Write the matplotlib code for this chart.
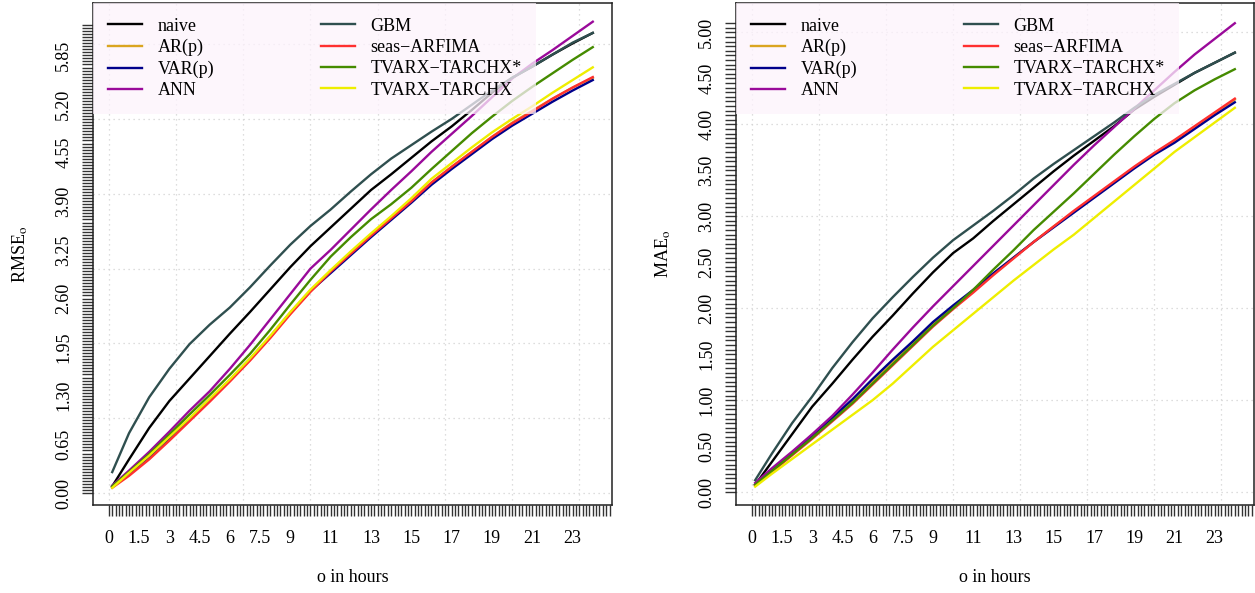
import matplotlib
matplotlib.use("Agg")
import matplotlib.pyplot as plt
import numpy as np

plt.rcParams["font.family"] = ["Liberation Serif", "DejaVu Serif"]
plt.rcParams["mathtext.fontset"] = "stix"

# forecast horizon in hours (first point = 10 min)
hours = [1 / 6, 1, 2, 3, 4, 5, 6, 7, 8, 9, 10, 11, 12, 13, 14, 15, 16, 17, 18, 19, 20, 21, 22, 23, 24]

models = ["naive", "AR(p)", "VAR(p)", "ANN", "GBM", "seas\u2212ARFIMA", "TVARX\u2212TARCHX*", "TVARX\u2212TARCHX"]
colors = ["#000000", "#DAA520", "#00008B", "#9A0A9A", "#2F4F4F", "#FF3030", "#458B00", "#EEEE00"]

# RMSE per horizon
rmse_naive = [0.09, 0.45, 0.87, 1.23, 1.53, 1.83, 2.13, 2.42, 2.72, 3.02, 3.30, 3.55, 3.80, 4.05, 4.26, 4.48, 4.70, 4.90, 5.12, 5.35, 5.55, 5.70, 5.86, 6.01, 6.15]
rmse_ar = [0.08, 0.25, 0.47, 0.72, 0.98, 1.24, 1.50, 1.78, 2.08, 2.40, 2.70, 2.96, 3.20, 3.44, 3.67, 3.90, 4.15, 4.36, 4.56, 4.76, 4.95, 5.11, 5.27, 5.42, 5.55]
rmse_var = [0.08, 0.26, 0.49, 0.74, 0.99, 1.25, 1.51, 1.79, 2.09, 2.41, 2.70, 2.94, 3.18, 3.42, 3.65, 3.88, 4.12, 4.33, 4.53, 4.73, 4.91, 5.07, 5.23, 5.38, 5.52]
rmse_ann = [0.10, 0.30, 0.55, 0.82, 1.10, 1.36, 1.66, 1.98, 2.32, 2.66, 3.00, 3.25, 3.52, 3.79, 4.05, 4.30, 4.56, 4.80, 5.04, 5.29, 5.54, 5.74, 5.92, 6.11, 6.30]
rmse_gbm = [0.28, 0.80, 1.28, 1.66, 1.99, 2.25, 2.48, 2.75, 3.04, 3.32, 3.57, 3.79, 4.03, 4.26, 4.47, 4.65, 4.83, 5.00, 5.19, 5.38, 5.55, 5.70, 5.86, 6.02, 6.15]
rmse_arfima = [0.07, 0.23, 0.45, 0.70, 0.96, 1.22, 1.49, 1.77, 2.07, 2.39, 2.69, 2.96, 3.20, 3.44, 3.67, 3.90, 4.15, 4.36, 4.56, 4.76, 4.94, 5.10, 5.27, 5.42, 5.56]
rmse_tvarx_s = [0.09, 0.28, 0.52, 0.78, 1.05, 1.31, 1.58, 1.86, 2.18, 2.52, 2.85, 3.16, 3.42, 3.66, 3.86, 4.08, 4.33, 4.57, 4.81, 5.03, 5.24, 5.43, 5.61, 5.79, 5.96]
rmse_tvarx = [0.07, 0.27, 0.50, 0.75, 1.00, 1.26, 1.52, 1.80, 2.10, 2.42, 2.72, 2.98, 3.23, 3.47, 3.70, 3.94, 4.20, 4.41, 4.62, 4.82, 5.00, 5.17, 5.35, 5.52, 5.69]

# MAE per horizon
mae_naive = [0.08, 0.33, 0.63, 0.93, 1.18, 1.44, 1.69, 1.92, 2.16, 2.39, 2.60, 2.76, 2.95, 3.13, 3.31, 3.49, 3.66, 3.82, 3.98, 4.16, 4.30, 4.43, 4.56, 4.67, 4.78]
mae_ar = [0.08, 0.23, 0.41, 0.60, 0.79, 0.99, 1.20, 1.41, 1.62, 1.83, 2.01, 2.19, 2.37, 2.55, 2.72, 2.89, 3.05, 3.21, 3.37, 3.53, 3.68, 3.82, 3.97, 4.12, 4.27]
mae_var = [0.08, 0.24, 0.43, 0.62, 0.81, 1.01, 1.23, 1.44, 1.64, 1.85, 2.03, 2.20, 2.38, 2.55, 2.72, 2.88, 3.04, 3.20, 3.36, 3.52, 3.67, 3.80, 3.95, 4.10, 4.24]
mae_ann = [0.10, 0.26, 0.44, 0.63, 0.83, 1.06, 1.30, 1.55, 1.79, 2.02, 2.24, 2.46, 2.68, 2.90, 3.12, 3.34, 3.56, 3.77, 3.97, 4.17, 4.37, 4.57, 4.76, 4.93, 5.10]
mae_gbm = [0.13, 0.42, 0.75, 1.04, 1.35, 1.63, 1.89, 2.12, 2.34, 2.55, 2.74, 2.90, 3.06, 3.23, 3.41, 3.57, 3.72, 3.87, 4.02, 4.18, 4.32, 4.44, 4.56, 4.67, 4.78]
mae_arfima = [0.07, 0.22, 0.40, 0.58, 0.77, 0.96, 1.17, 1.38, 1.59, 1.80, 1.99, 2.17, 2.36, 2.54, 2.72, 2.89, 3.06, 3.22, 3.38, 3.54, 3.69, 3.83, 3.98, 4.13, 4.28]
mae_tvarx_s = [0.08, 0.23, 0.41, 0.59, 0.78, 0.97, 1.18, 1.39, 1.60, 1.81, 2.00, 2.20, 2.42, 2.63, 2.85, 3.05, 3.25, 3.46, 3.67, 3.87, 4.06, 4.23, 4.37, 4.49, 4.60]
mae_tvarx = [0.06, 0.20, 0.36, 0.52, 0.68, 0.84, 1.00, 1.18, 1.38, 1.58, 1.76, 1.94, 2.12, 2.30, 2.47, 2.64, 2.80, 2.98, 3.16, 3.34, 3.52, 3.70, 3.86, 4.02, 4.18]

rmse = [rmse_naive, rmse_ar, rmse_var, rmse_ann, rmse_gbm, rmse_arfima, rmse_tvarx_s, rmse_tvarx]
mae = [mae_naive, mae_ar, mae_var, mae_ann, mae_gbm, mae_arfima, mae_tvarx_s, mae_tvarx]

xlabels = [0, 1.5, 3, 4.5, 6, 7.5, 9, 11, 13, 15, 17, 19, 21, 23]
rmse_ticks = [0.00, 0.65, 1.30, 1.95, 2.60, 3.25, 3.90, 4.55, 5.20, 5.85]
mae_ticks = [0.00, 0.50, 1.00, 1.50, 2.00, 2.50, 3.00, 3.50, 4.00, 4.50, 5.00]

W, H = 1255, 593
FS = 13
fig = plt.figure(figsize=(W / 100, H / 100), dpi=100)
ax1 = fig.add_axes([93 / W, 1 - 505 / H, 519 / W, 502 / H])
ax2 = fig.add_axes([736 / W, 1 - 505 / H, 518 / W, 502 / H])


def panel(ax, series, yticks, minor_step, ymax_tick, ylim, ylabel):
    # grid like R's grid(): every 20 ten-minute steps, integer y values
    for k in range(0, 141, 20):
        ax.axvline(k / 6, color="#d3d3d3", lw=0.9, ls=(0, (1, 3)), zorder=0)
    for v in range(0, int(ylim[1]) + 1):
        ax.axhline(v, color="#d3d3d3", lw=0.9, ls=(0, (1, 3)), zorder=0)
    for name, col, vals in zip(models, colors, series):
        ax.plot(hours, vals, color=col, lw=1.7, label=name, zorder=2)
    ax.set_xlim((1 - 5.72) / 6, (144 + 5.72) / 6)
    ax.set_ylim(*ylim)
    ax.set_xticks(xlabels)
    ax.set_xticklabels([("%g" % v) for v in xlabels])
    ax.set_xticks(np.arange(0, 150) / 6, minor=True)
    ax.set_yticks(yticks)
    ax.set_yticklabels(["%.2f" % v for v in yticks], rotation=90, va="center")
    ax.set_yticks(np.arange(0, ymax_tick, minor_step), minor=True)
    ax.tick_params(which="both", length=8, width=1.0, color="#333333", labelsize=FS)
    ax.tick_params(axis="x", which="both", pad=10)
    ax.tick_params(axis="y", which="both", pad=7)
    for s in ax.spines.values():
        s.set_linewidth(1.1)
        s.set_color("#222222")
    ax.set_xlabel("o in hours", fontsize=FS)
    ax.xaxis.set_label_coords(0.5, -0.145)
    ax.xaxis.label.set_va("center")
    ax.set_ylabel(ylabel, fontsize=FS)
    ax.yaxis.set_label_coords(-0.141, 0.5)
    ax.yaxis.label.set_va("center")
    leg = ax.legend(loc="upper left", bbox_to_anchor=(0, 1), ncol=2, fontsize=FS,
                    frameon=True, fancybox=False, facecolor="#fdf3fc", edgecolor="none",
                    framealpha=0.75, borderaxespad=0, handlelength=1.9, handletextpad=0.85,
                    columnspacing=5.9, labelspacing=0.24, borderpad=0.82)
    leg.set_zorder(5)


panel(ax1, rmse, rmse_ticks, 0.65 / 16, 6.28, (-0.16, 6.55), r"RMSE$_\mathrm{o}$")
panel(ax2, mae, mae_ticks, 0.05, 5.11, (-0.14, 5.32), r"MAE$_\mathrm{o}$")

fig.savefig("out.png", dpi=100)
